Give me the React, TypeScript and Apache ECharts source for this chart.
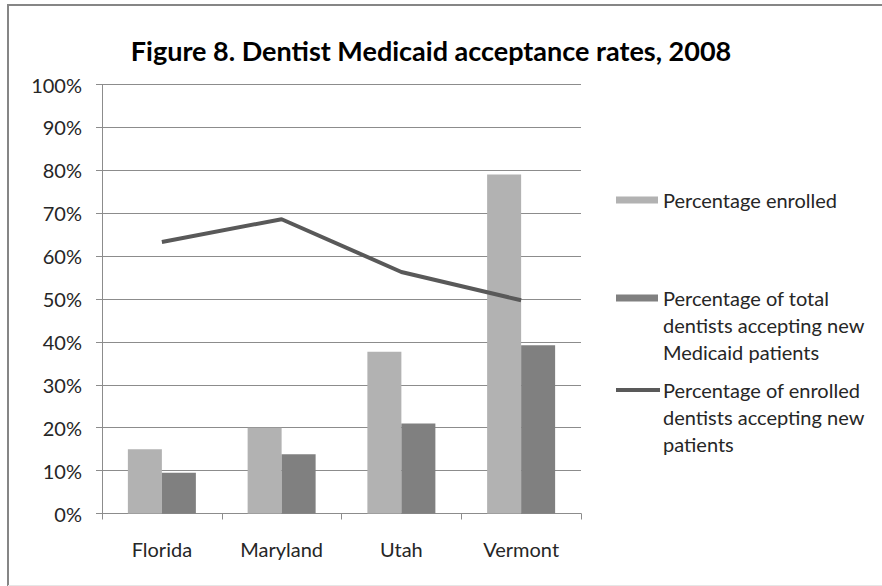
import React, { useEffect, useRef } from "react";
import * as echarts from "echarts";

const states = ["Florida", "Maryland", "Utah", "Vermont"];
const enrolled = [15, 20, 37.7, 79];
const totalAccepting = [9.5, 13.8, 21, 39.2];
const enrolledAccepting = [63.3, 68.6, 56.3, 49.7];
const seriesNames = [
  "Percentage enrolled",
  "Percentage of total dentists accepting new Medicaid patients",
  "Percentage of enrolled dentists accepting new patients",
];
const legendLabels = [
  "Percentage enrolled",
  "Percentage of total\ndentists accepting new\nMedicaid patients",
  "Percentage of enrolled\ndentists accepting new\npatients",
];
const titleText = "Figure 8. Dentist Medicaid acceptance rates, 2008";

const FONT = "Lato, 'Open Sans', sans-serif";
const COLORS = ["#b2b2b2", "#808080", "#595959"];
const TEXT = "#262626";
const GRID = "#8c8c8c";

export default function App() {
  const ref = useRef<HTMLDivElement>(null);

  useEffect(() => {
    if (!ref.current) return;
    const chart = echarts.init(ref.current, null, { renderer: "svg" });

    const legendY = [200, 298, 390];
    const legendGraphics: any[] = [];
    legendLabels.forEach((label, i) => {
      if (i < 2) {
        legendGraphics.push({
          type: "rect",
          shape: { x: 616, y: legendY[i] - 3.5, width: 42, height: 7 },
          style: { fill: COLORS[i] },
          silent: true,
        });
      } else {
        legendGraphics.push({
          type: "line",
          shape: { x1: 616, y1: legendY[i], x2: 660, y2: legendY[i] },
          style: { stroke: COLORS[i], lineWidth: 4 },
          silent: true,
        });
      }
      legendGraphics.push({
        type: "text",
        x: 663,
        y: legendY[i] - 13.5,
        style: {
          text: label,
          font: `20px ${FONT}`,
          fill: TEXT,
          lineHeight: 27,
          verticalAlign: "top",
          align: "left",
        },
        silent: true,
      });
    });

    chart.setOption({
      animation: false,
      backgroundColor: "#ffffff",
      title: {
        text: titleText,
        left: 426,
        top: 45,
        textAlign: "center",
        textVerticalAlign: "middle",
        textStyle: {
          fontFamily: FONT,
          fontWeight: "bold",
          fontSize: 27,
          color: "#000000",
        },
      },
      grid: { left: 102, top: 84.5, right: 301, bottom: 72.5, containLabel: false },
      xAxis: {
        type: "category",
        data: states,
        boundaryGap: true,
        axisLine: { lineStyle: { color: GRID, width: 1 } },
        axisTick: { show: true, length: 6, lineStyle: { color: GRID } },
        axisLabel: {
          margin: 25,
          fontFamily: FONT,
          fontSize: 20,
          color: TEXT,
        },
        splitLine: { show: false },
      },
      yAxis: {
        type: "value",
        min: 0,
        max: 100,
        interval: 10,
        axisLine: { show: true, lineStyle: { color: GRID, width: 1 } },
        axisTick: { show: true, length: 6, lineStyle: { color: GRID } },
        axisLabel: {
          margin: 20,
          fontFamily: FONT,
          fontSize: 20,
          color: TEXT,
          formatter: "{value}%",
        },
        splitLine: { show: true, lineStyle: { color: GRID, width: 1 } },
      },
      series: [
        {
          name: seriesNames[0],
          type: "bar",
          data: enrolled,
          barWidth: 34,
          barGap: "0%",
          itemStyle: { color: COLORS[0] },
        },
        {
          name: seriesNames[1],
          type: "bar",
          data: totalAccepting,
          barWidth: 34,
          barGap: "0%",
          itemStyle: { color: COLORS[1] },
        },
        {
          name: seriesNames[2],
          type: "line",
          data: enrolledAccepting,
          symbol: "none",
          lineStyle: { color: COLORS[2], width: 4 },
          itemStyle: { color: COLORS[2] },
          z: 5,
        },
      ],
      graphic: [
        // frame: dark top and left edges, faint bottom edge
        {
          type: "line",
          shape: { x1: 7, y1: 5, x2: 882, y2: 5 },
          style: { stroke: "#868686", lineWidth: 2 },
          silent: true,
          z: 100,
        },
        {
          type: "line",
          shape: { x1: 8, y1: 4, x2: 8, y2: 586 },
          style: { stroke: "#868686", lineWidth: 2 },
          silent: true,
          z: 100,
        },
        {
          type: "line",
          shape: { x1: 8, y1: 585.5, x2: 882, y2: 585.5 },
          style: { stroke: "#e6e6e6", lineWidth: 1 },
          silent: true,
          z: 100,
        },
        ...legendGraphics,
      ],
    });

    return () => chart.dispose();
  }, []);

  return (
    <div
      ref={ref}
      style={{ position: "fixed", left: 0, top: 0, width: 882, height: 586 }}
    />
  );
}
